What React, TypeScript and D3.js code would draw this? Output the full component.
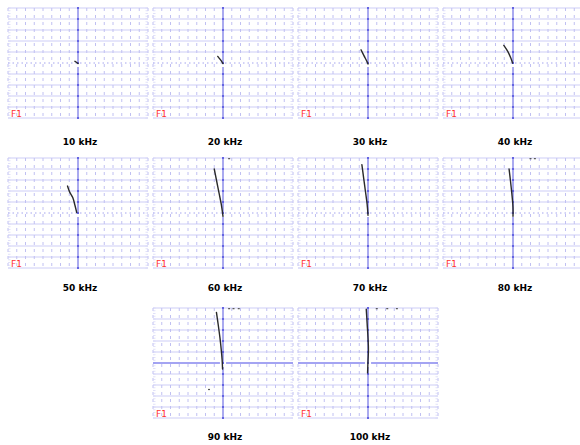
import React from "react";
import * as d3 from "d3";

// ---- data ----
const freqLabels = ["10 kHz", "20 kHz", "30 kHz", "40 kHz", "50 kHz", "60 kHz", "70 kHz", "80 kHz", "90 kHz", "100 kHz"];
const panelRow = [0, 0, 0, 0, 1, 1, 1, 1, 2, 2];
const panelCol = [0, 1, 2, 3, 0, 1, 2, 3, 1, 2];
const solidCenterLine = [false, false, false, false, false, false, false, false, true, true];

// impedance-plane traces, in screen divisions (x: horizontal, y: vertical)
const trace10: [number, number][] = [[-0.35, 0.15], [-0.15, 0.05], [0, -0.05]];
const trace20: [number, number][] = [[-0.6, 0.6], [-0.3, 0.3], [0, -0.05]];
const trace30: [number, number][] = [[-0.8, 1.2], [-0.45, 0.65], [-0.1, 0.1], [0, -0.1]];
const trace40: [number, number][] = [[-1.05, 1.6], [-0.6, 1.05], [-0.25, 0.45], [-0.05, 0.0]];
const trace50: [number, number][] = [[-1.2, 2.45], [-0.95, 1.9], [-0.6, 1.4], [-0.35, 0.7], [-0.15, 0.05]];
const trace60: [number, number][] = [[-1.0, 4.0], [-0.75, 3.0], [-0.45, 1.8], [-0.2, 0.8], [0, -0.3]];
const trace70: [number, number][] = [[-0.7, 4.4], [-0.5, 3.2], [-0.3, 2.0], [-0.1, 0.8], [0, -0.2]];
const trace80: [number, number][] = [[-0.45, 4.0], [-0.3, 3.0], [-0.1, 1.5], [0, 0.5], [0, -0.3]];
const trace90: [number, number][] = [[-0.75, 4.6], [-0.55, 3.5], [-0.35, 2.3], [-0.2, 1.2], [-0.1, 0.3], [-0.05, -0.55]];
const trace100: [number, number][] = [[-0.2, 4.9], [-0.1, 3.6], [0, 2.3], [0.05, 1.2], [0, 0.2], [-0.05, -0.9]];
const traces = [trace10, trace20, trace30, trace40, trace50, trace60, trace70, trace80, trace90, trace100];

// stray specks on the display
const specks: [number, number][][] = [[], [], [], [], [], [[0.7, 4.95]], [], [[2.0, 4.95], [2.5, 4.95]], [[0.7, 4.95], [1.2, 4.95], [1.8, 4.95], [-1.6, -2.4]], [[1.0, 4.95], [2.2, 4.95], [3.3, 4.95]]];

const xDivs = d3.range(-8, 9, 1);
const yDivs = d3.range(-5, 6, 1);
const yMinor = d3.range(-5, 5.01, 0.25);

const W = 580, H = 445;
const PW = 140, PH = 110;
const labelOffset = [137, 133, 132];

function Panel({ i }: { i: number }) {
  const left = 8 + panelCol[i] * 145;
  const top = 8 + panelRow[i] * 150;
  const x = d3.scaleLinear().domain([-8, 8]).range([left, left + PW]);
  const y = d3.scaleLinear().domain([-5, 5]).range([top + PH, top]);
  const line = d3.line<[number, number]>().x(d => x(d[0])).y(d => y(d[1])).curve(d3.curveCatmullRom);
  const gridH = "#cdcdf6";
  const gridV = "#c0c0f2";
  const axis = "#6464e2";
  return (
    <g>
      {/* horizontal grid */}
      {yDivs.filter(v => v !== 0).map(v => (
        <line key={"h" + v} x1={x(-8)} x2={x(8)} y1={y(v)} y2={y(v)} stroke={gridH} strokeWidth={1} />
      ))}
      {/* vertical dashed grid */}
      {xDivs.filter(v => v !== 0).map(v => (
        <line key={"v" + v} x1={x(v)} x2={x(v)} y1={y(5)} y2={y(-5)} stroke={gridV} strokeWidth={1} strokeDasharray="3,4" />
      ))}
      {/* edge minor ticks */}
      {yMinor.map(v => (
        <g key={"m" + v}>
          <line x1={x(-8)} x2={x(-8) + 2.5} y1={y(v)} y2={y(v)} stroke="#d4d4f7" strokeWidth={0.7} />
          <line x1={x(8) - 2.5} x2={x(8)} y1={y(v)} y2={y(v)} stroke="#d4d4f7" strokeWidth={0.7} />
        </g>
      ))}
      {/* center horizontal line */}
      {solidCenterLine[i] ? (
        <g>
          <line x1={x(-8)} x2={x(-0.35)} y1={y(0)} y2={y(0)} stroke="#8686ee" strokeWidth={1.6} />
          <line x1={x(0.35)} x2={x(8)} y1={y(0)} y2={y(0)} stroke="#8686ee" strokeWidth={1.6} />
        </g>
      ) : (
        <line x1={x(-8)} x2={x(8)} y1={y(0)} y2={y(0)} stroke="#a4a4ee" strokeWidth={1} strokeDasharray="1.5,3" />
      )}
      {/* center vertical axis */}
      <line x1={x(0)} x2={x(0)} y1={y(5)} y2={y(-5)} stroke={axis} strokeWidth={1.1} />
      {yDivs.map(v => (
        <rect key={"a" + v} x={x(0) - 1} y={y(v) - 1} width={2} height={2} fill={axis} />
      ))}
      {/* cursor gap */}
      <rect x={x(0) - 2} y={y(0) + 1} width={4} height={3} fill="#fff" />
      {/* trace */}
      <path d={line(traces[i]) || ""} fill="none" stroke="#2a2a2a" strokeWidth={1.4} strokeLinecap="round" />
      {specks[i].map((p, k) => (
        <rect key={"s" + k} x={x(p[0]) - 1} y={y(p[1]) - 0.5} width={2} height={1.2} fill="#555" />
      ))}
      <text x={left + 3} y={top + PH - 1} fill="#ff3030" fontFamily="DejaVu Sans, sans-serif" fontSize={9}>F1</text>
      <text x={left + 72} y={top + labelOffset[panelRow[i]]} textAnchor="middle" fill="#000" fontFamily="DejaVu Sans, sans-serif" fontWeight="bold" fontSize={9}>{freqLabels[i]}</text>
    </g>
  );
}

export default function App() {
  return (
    <svg width={W} height={H} viewBox={`0 0 ${W} ${H}`} style={{ position: "absolute", left: 0, top: 0, background: "#fff" }}>
      <rect x={0} y={0} width={W} height={H} fill="#fff" />
      {freqLabels.map((_, i) => <Panel key={i} i={i} />)}
    </svg>
  );
}
